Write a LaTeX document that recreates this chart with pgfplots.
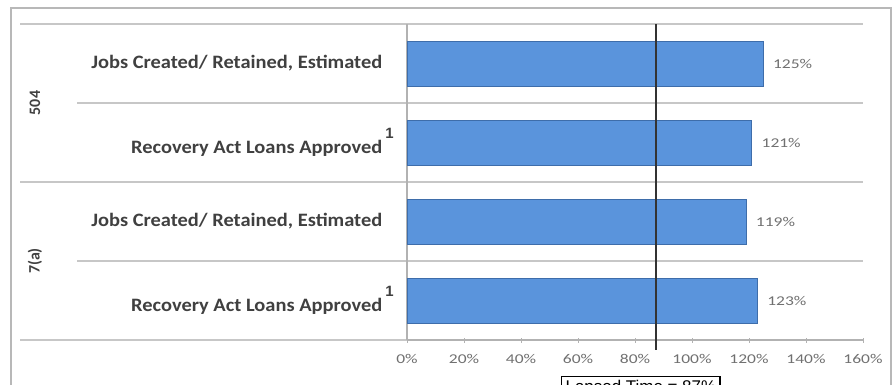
\documentclass[border=0pt]{standalone}
\usepackage{pgfplots}
\pgfplotsset{compat=1.18}
\usepackage{fontspec}
\setmainfont{Carlito}
\newfontfamily\arialfont{Liberation Sans}
\newfontfamily\tickfont[FakeStretch=1.3]{Carlito}
\newfontfamily\catfont[FakeStretch=1.08]{Carlito}
\definecolor{barblue}{HTML}{5A94DC}
\definecolor{baredge}{HTML}{3E6DAA}
\definecolor{lbl}{HTML}{404040}
\definecolor{tcol}{HTML}{707070}
\begin{document}
\begin{tikzpicture}[x=1bp,y=1bp]
\useasboundingbox (0,0) rectangle (894,384);
% outer frame
\draw[black!28, line width=1.6bp] (11,-5) -- (11,376) -- (891,376) -- (891,-5);
% category separators
\draw[black!22, line width=1.2bp] (20,360) -- (863,360);
\draw[black!22, line width=1.2bp] (20,202) -- (863,202);
\draw[black!22, line width=1.2bp] (20,44) -- (407,44);
\draw[black!22, line width=1.2bp] (77,281) -- (863,281);
\draw[black!22, line width=1.2bp] (77,123) -- (863,123);
\begin{axis}[
  at={(407bp,44bp)}, anchor=south west,
  scale only axis, width=456bp, height=316bp,
  xmin=0, xmax=160, ymin=-0.5, ymax=3.5, y dir=reverse,
  clip=false,
  axis x line*=bottom, axis y line*=left,
  axis line style={black!30, line width=1.2bp, -},
  xtick={0,20,...,160},
  xticklabel={\pgfmathprintnumber{\tick}\%},
  /pgf/number format/assume math mode=true,
  xticklabel style={font=\tickfont\fontsize{13.5}{13.5}\selectfont, text=tcol, anchor=north, yshift=-8bp},
  x tick style={black!30, line width=1bp},
  tick align=center, major tick length=5bp,
  ytick={0,1,2,3},
  y tick style={draw=none},
  yticklabels={Jobs Created/ Retained{,} Estimated,
               {Recovery Act Loans Approved\rlap{\hspace{3bp}\raisebox{15bp}{\arialfont\fontsize{15}{15}\selectfont 1}}},
               Jobs Created/ Retained{,} Estimated,
               {Recovery Act Loans Approved\rlap{\hspace{3bp}\raisebox{15bp}{\arialfont\fontsize{15}{15}\selectfont 1}}}},
  yticklabel style={font=\catfont\bfseries\fontsize{19}{19}\selectfont, text=lbl, anchor=east, inner sep=0pt, xshift=-22bp},
  bar width=45bp,
]
\addplot[xbar, fill=barblue, draw=baredge, line width=0.9bp,
  nodes near coords={\pgfmathprintnumber{\pgfplotspointmeta}\%},
  nodes near coords style={font=\tickfont\fontsize{13.5}{13.5}\selectfont, text=tcol, anchor=west, xshift=6bp},
  point meta=x]
  coordinates {(125,0) (121,1) (119,2) (123,3)};
\addplot[black!80, line width=2.2bp, forget plot] coordinates {(87.5,-0.5) (87.5,3.63)};
\end{axis}
% group labels
\node[rotate=90, font=\bfseries\fontsize{16}{16}\selectfont, text=lbl] at (35,281) {504};
\node[rotate=90, font=\bfseries\fontsize{16}{16}\selectfont, text=lbl] at (35,123) {7(a)};
% annotation box (cut by the picture edge, as in the reference)
\node[draw=black, line width=1.3bp, anchor=north west, inner sep=4bp, fill=white,
  font=\arialfont\fontsize{17}{17}\selectfont] at (561,8) {Lapsed Time = 87\%};
\end{tikzpicture}
\end{document}
